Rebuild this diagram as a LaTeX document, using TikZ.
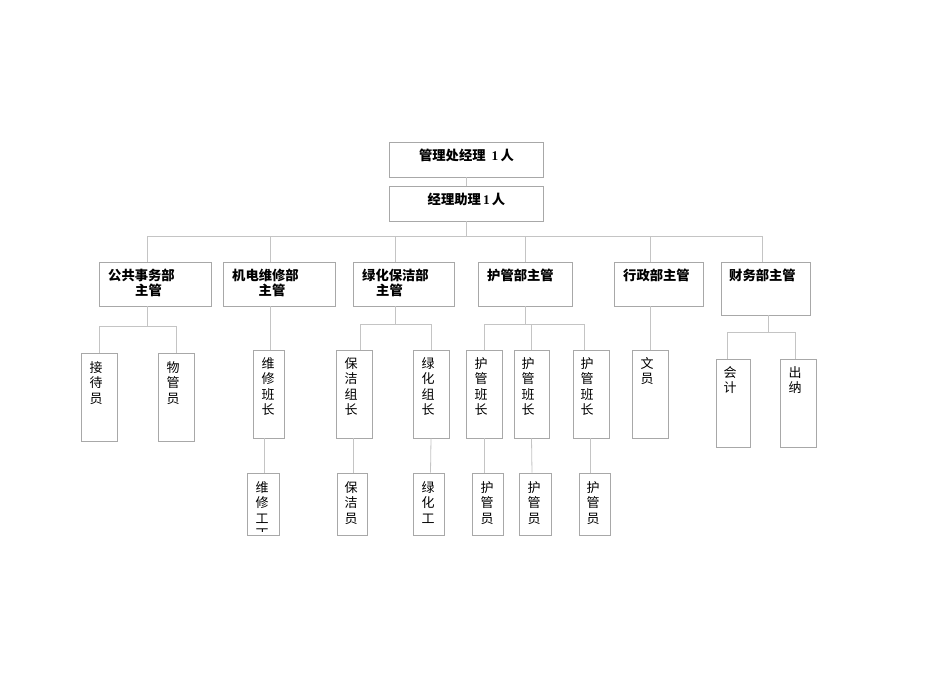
\documentclass[tikz,border=0pt]{standalone}
\usepackage{fontspec}
\setmainfont{Liberation Serif}
\newfontfamily\cjk{Noto Sans CJK SC}
\usetikzlibrary{fit}
\definecolor{boxgray}{HTML}{A8A8A8}
\definecolor{linegray}{HTML}{C4C4C4}
\newcommand\bx[5]{\path (#2,#3) coordinate (#1-a) (#4,#5) coordinate (#1-b);
  \node[box,fit=(#1-a)(#1-b)] (#1) {};}
\begin{document}
\begin{tikzpicture}[x=1pt,y=-1pt,
  box/.style={draw=boxgray,line width=0.8pt,inner sep=0pt},
  conn/.style={draw=linegray,line width=0.8pt},
  lbl/.style={inner sep=0pt,font=\cjk\fontsize{13}{15.6}\selectfont},
  blbl/.style={inner sep=0pt,font=\cjk\bfseries\fontsize{13.3}{15.5}\selectfont},
  vlbl/.style={lbl,align=center,anchor=north}]
\fill[white] (0,0) rectangle (950,672);
\useasboundingbox (0,0) rectangle (950,672);

% boxes
\bx{top}{389}{142}{543}{177}
\bx{asst}{389}{186}{543}{221}
\bx{pub}{99}{262}{211}{306}
\bx{mech}{223}{262}{335}{306}
\bx{green}{353}{262}{454}{306}
\bx{guard}{478}{262}{572}{306}
\bx{admin}{614}{262}{703}{306}
\bx{fin}{721}{262}{810}{315}
\bx{jd}{81}{353}{117}{441}
\bx{wg}{158}{353}{194}{441}
\bx{wxbz}{253}{350}{284}{438}
\bx{wxg}{247}{473}{279}{535}
\bx{bjzz}{336}{350}{372}{438}
\bx{lhzz}{413}{350}{449}{438}
\bx{bjy}{337}{473}{367}{535}
\bx{lhg}{413}{473}{444}{535}
\bx{hb1}{466}{350}{502}{438}
\bx{hb2}{514}{350}{549}{438}
\bx{hb3}{573}{350}{609}{438}
\bx{hy1}{472}{473}{503}{535}
\bx{hy2}{519}{473}{551}{535}
\bx{hy3}{579}{473}{610}{535}
\bx{wy}{632}{350}{668}{438}
\bx{kj}{716}{359}{750}{447}
\bx{cn}{780}{359}{816}{447}

% connectors
\draw[conn] (top) -- (asst);
\draw[conn] (asst.south) -- ++(0,15) coordinate (bus1);
\draw[conn] ([xshift=-8pt]pub.north) |- (bus1);
\draw[conn] ([xshift=-9pt]mech.north) |- (bus1);
\draw[conn] ([xshift=-8.5pt]green.north) |- (bus1);
\draw[conn] (guard.north) |- (bus1);
\draw[conn] ([xshift=-8.5pt]admin.north) |- (bus1);
\draw[conn] ([xshift=-3.5pt]fin.north) |- (bus1);

\draw[conn] ([xshift=-8pt]pub.south) -- ++(0,20) coordinate (pb);
\draw[conn] (jd.north) |- (pb);
\draw[conn] (wg.north) |- (pb);

\draw[conn] ([xshift=-9pt]mech.south) -- ([xshift=1.5pt]wxbz.north);
\draw[conn] ([xshift=-4pt]wxbz.south) -- ([xshift=1.5pt]wxg.north);

\draw[conn] ([xshift=-8.5pt]green.south) -- ++(0,18) coordinate (gb);
\draw[conn] ([xshift=6pt]bjzz.north) |- (gb);
\draw[conn] (lhzz.north) |- (gb);
\draw[conn] ([xshift=-1pt]bjzz.south) -- ([xshift=1pt]bjy.north);
\draw[conn] (lhzz.south) -- ([xshift=2pt]lhg.north);

\draw[conn] (guard.south) -- ++(0,18) coordinate (hb);
\draw[conn] (hb1.north) |- (hb);
\draw[conn] (hb2.north) |- (hb);
\draw[conn] ([xshift=-6.5pt]hb3.north) |- (hb);
\draw[conn] (hb1.south) -- ([xshift=-3.5pt]hy1.north);
\draw[conn] (hb2.south) -- ([xshift=-3pt]hy2.north);
\draw[conn] ([xshift=-1pt]hb3.south) -- ([xshift=-4.5pt]hy3.north);

\draw[conn] ([xshift=-8.5pt]admin.south) -- (wy.north);

\draw[conn] ([xshift=2.5pt]fin.south) -- ++(0,17) coordinate (fb);
\draw[conn] ([xshift=-6pt]kj.north) |- (fb);
\draw[conn] ([xshift=-3pt]cn.north) |- (fb);

% labels
\node[blbl] at (466.5,155.5) {管理处经理\ \ {\rmfamily\bfseries 1}\,人};
\node[blbl] at (466.5,199.5) {经理助理\,{\rmfamily\bfseries 1}\,人};
\node[blbl,anchor=west] at (108,275.5) {公共事务部};
\node[blbl] at (148.5,290.5) {主管};
\node[blbl,anchor=west] at (232,275.5) {机电维修部};
\node[blbl] at (272,290.5) {主管};
\node[blbl,anchor=west] at (362,275.5) {绿化保洁部};
\node[blbl] at (389.5,290.5) {主管};
\node[blbl,anchor=west] at (487,275.5) {护管部主管};
\node[blbl,anchor=west] at (623,275.5) {行政部主管};
\node[blbl,anchor=west] at (729,275.5) {财务部主管};

\node[vlbl] at (96,361) {接\\待\\员};
\node[vlbl] at (173,361) {物\\管\\员};
\node[vlbl] at (268,357) {维\\修\\班\\长};
\node[vlbl] at (351,357) {保\\洁\\组\\长};
\node[vlbl] at (428,357) {绿\\化\\组\\长};
\node[vlbl] at (481,357) {护\\管\\班\\长};
\node[vlbl] at (528,357) {护\\管\\班\\长};
\node[vlbl] at (587,357) {护\\管\\班\\长};
\node[vlbl] at (647,357) {文\\员};
\node[vlbl] at (730,366) {会\\计};
\node[vlbl] at (795,366) {出\\纳};
\begin{scope}
\clip (247,473) rectangle (279,531);
\node[vlbl] at (262,481) {维\\修\\工\\丁};
\end{scope}
\node[vlbl] at (351,481) {保\\洁\\员};
\node[vlbl] at (428,481) {绿\\化\\工};
\node[vlbl] at (487,481) {护\\管\\员};
\node[vlbl] at (534,481) {护\\管\\员};
\node[vlbl] at (593,481) {护\\管\\员};
\end{tikzpicture}
\end{document}
